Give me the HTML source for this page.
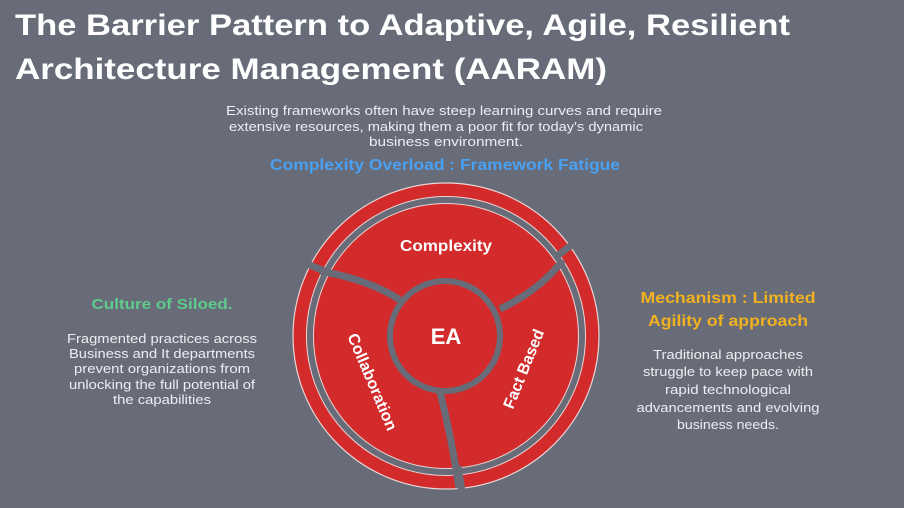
<!DOCTYPE html>
<html><head><meta charset="utf-8"><style>
html,body{margin:0;padding:0;background:#676c78;}
svg{display:block}
text{font-family:"Liberation Sans",sans-serif;}
</style></head><body>
<svg width="904" height="508" viewBox="0 0 904 508" xmlns="http://www.w3.org/2000/svg">
<rect width="904" height="508" fill="#676c78"/>
<g fill="#fff" font-weight="bold" font-size="30">
<text x="15" y="35" textLength="775" lengthAdjust="spacingAndGlyphs">The Barrier Pattern to Adaptive, Agile, Resilient</text>
<text x="15" y="79" textLength="592" lengthAdjust="spacingAndGlyphs">Architecture Management (AARAM)</text>
</g>
<g fill="#eceef2" font-size="13" text-anchor="middle">
<text x="444" y="115" textLength="436" lengthAdjust="spacingAndGlyphs">Existing frameworks often have steep learning curves and require</text>
<text x="436" y="131" textLength="414" lengthAdjust="spacingAndGlyphs">extensive resources, making them a poor fit for today's dynamic</text>
<text x="446" y="146" textLength="154" lengthAdjust="spacingAndGlyphs">business environment.</text>
</g>
<text x="445" y="170" fill="#4aa0f2" font-weight="bold" font-size="16" text-anchor="middle" textLength="350" lengthAdjust="spacingAndGlyphs">Complexity Overload : Framework Fatigue</text>
<text x="162" y="309" fill="#5fcb8c" font-weight="bold" font-size="15" text-anchor="middle" textLength="141" lengthAdjust="spacingAndGlyphs">Culture of Siloed.</text>
<g fill="#eceef2" font-size="13" text-anchor="middle">
<text x="162" y="343" textLength="190" lengthAdjust="spacingAndGlyphs">Fragmented practices across</text>
<text x="162" y="358" textLength="186" lengthAdjust="spacingAndGlyphs">Business and It departments</text>
<text x="162" y="373" textLength="176" lengthAdjust="spacingAndGlyphs">prevent organizations from</text>
<text x="162" y="389" textLength="186" lengthAdjust="spacingAndGlyphs">unlocking the full potential of</text>
<text x="162" y="404" textLength="98" lengthAdjust="spacingAndGlyphs">the capabilities</text>
</g>
<g fill="#f2b11e" font-weight="bold" font-size="16" text-anchor="middle">
<text x="728" y="303" textLength="175" lengthAdjust="spacingAndGlyphs">Mechanism : Limited</text>
<text x="728" y="326" textLength="160" lengthAdjust="spacingAndGlyphs">Agility of approach</text>
</g>
<g fill="#eceef2" font-size="13" text-anchor="middle">
<text x="728" y="359" textLength="150" lengthAdjust="spacingAndGlyphs">Traditional approaches</text>
<text x="728" y="376" textLength="170" lengthAdjust="spacingAndGlyphs">struggle to keep pace with</text>
<text x="728" y="394" textLength="126" lengthAdjust="spacingAndGlyphs">rapid technological</text>
<text x="728" y="412" textLength="183" lengthAdjust="spacingAndGlyphs">advancements and evolving</text>
<text x="728" y="429" textLength="102" lengthAdjust="spacingAndGlyphs">business needs.</text>
</g>
<!-- wheel -->
<circle cx="446" cy="336" r="153" fill="#d32a2b" stroke="#e9d5d5" stroke-width="1.2"/>
<circle cx="446" cy="336" r="136" fill="none" stroke="#e9d5d5" stroke-width="8"/>
<circle cx="446" cy="336" r="136" fill="none" stroke="#676c78" stroke-width="6"/>
<g stroke="#676c78" stroke-width="7" fill="none" stroke-linecap="butt">
<line x1="332" y1="274" x2="302" y2="262"/>
<line x1="557" y1="256" x2="578" y2="240"/>
<line x1="458" y1="466" x2="463" y2="498"/>
<path d="M400 300 Q370 280 320 271"/>
<path d="M500 309 Q540 290 563 260"/>
<path d="M440 392 Q452 440 459 488"/>
</g>
<circle cx="445" cy="336" r="58" fill="#676c78"/>
<circle cx="445" cy="336" r="52" fill="#d32a2b"/>
<g fill="#fff" font-weight="bold" text-anchor="middle">
<text x="446" y="251" font-size="16" textLength="92" lengthAdjust="spacingAndGlyphs">Complexity</text>
<text x="446" y="344" font-size="22">EA</text>
<text transform="translate(372,382) rotate(67)" font-size="16" textLength="104" lengthAdjust="spacingAndGlyphs" y="5">Collaboration</text>
<text transform="translate(524,369) rotate(-68)" font-size="16" textLength="84" lengthAdjust="spacingAndGlyphs" y="5">Fact Based</text>
</g>
</svg>
</body></html>
